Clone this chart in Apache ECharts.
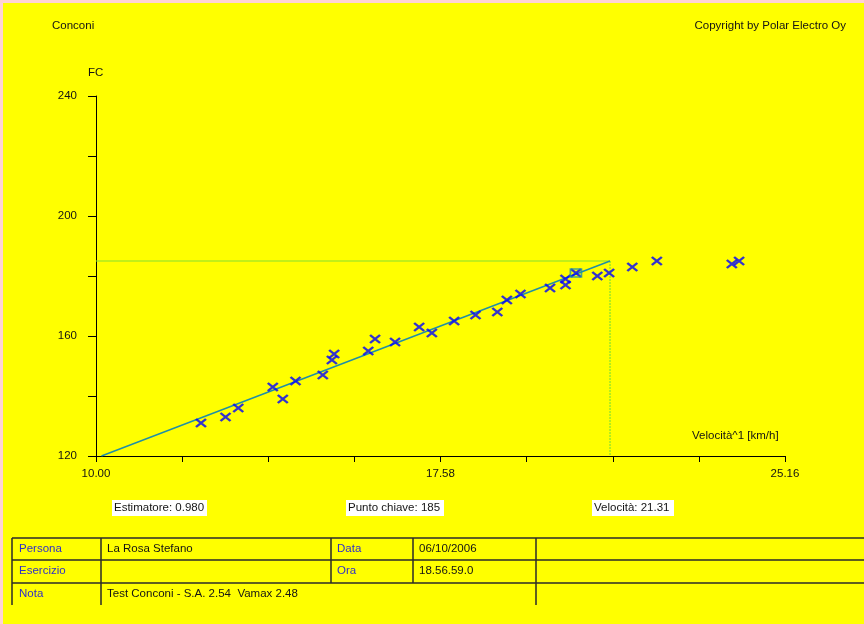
<!DOCTYPE html>
<html>
<head>
<meta charset="utf-8">
<script src="https://cdn.jsdelivr.net/npm/echarts@6/dist/echarts.min.js"></script>
<style>
html,body{margin:0;padding:0;background:#ffff00;}
#c{width:864px;height:624px;}
</style>
</head>
<body>
<div id="c"></div>
<script>
// ---- data ----
const velocity = [12.31,12.85,13.13,13.89,14.11,14.39,14.99,15.19,15.24,15.99,16.14,16.58,17.11,17.39,17.88,18.35,18.83,19.04,19.34,19.99,20.33,20.33,20.56,21.03,21.29,21.80,22.34,23.99,24.15];
const heartRate = [131,133,136,143,139,145,147,152,154,155,159,158,163,161,165,167,168,172,174,176,179,177,181,180,181,183,185,184,185];
const regressionVel = [10.12, 21.31];
const regressionHR = [120, 185];
const keyVel = [20.56];
const keyHR = [181];
const deflectionVel = 21.31;
const deflectionHR = 185;
const xTicks = [10.00, 11.895, 13.79, 15.685, 17.58, 19.475, 21.37, 23.265, 25.16];
const xLabels = [10.00, 17.58, 25.16];
const yLabels = [120, 160, 200, 240];
const yMin = 120, yMax = 240, yStep = 20;
const infoBoxes = ["Estimatore: 0.980", "Punto chiave: 185", "Velocità: 21.31"];
const tableRows = [
  ["Persona", "La Rosa Stefano", "Data", "06/10/2006"],
  ["Esercizio", "", "Ora", "18.56.59.0"],
  ["Nota", "Test Conconi - S.A. 2.54  Vamax 2.48", "", ""]
];

// ---- chart ----
const FONT = 'Liberation Sans, Arial, sans-serif';
const FS = 11.5;
const TXT = '#141414';
const BLUE = '#3030c8';
const chart = echarts.init(document.getElementById('c'));

const graphics = [];
graphics.push({type:'rect', shape:{x:0,y:0,width:864,height:3}, style:{fill:'#ffd3d3'}, silent:true});
graphics.push({type:'rect', shape:{x:0,y:0,width:3,height:624}, style:{fill:'#ffd3d3'}, silent:true});
function txt(x, y, s, opts) {
  graphics.push({type:'text', x:x, y:y, style:Object.assign({text:s, fill:TXT, font:FS + 'px ' + FONT, textVerticalAlign:'middle'}, opts||{})});
}
txt(52, 26, 'Conconi');
txt(846, 26, 'Copyright by Polar Electro Oy', {textAlign:'right'});
txt(88, 73, 'FC');
txt(692, 436, 'Velocità^1 [km/h]');

const boxX = [112, 346, 592];
const boxW = [95, 98, 82];
infoBoxes.forEach((s, i) => {
  graphics.push({type:'rect', shape:{x:boxX[i], y:500, width:boxW[i], height:16}, style:{fill:'#ffffff'}});
  txt(boxX[i] + 2, 508, s);
});

const lineStyle = {stroke:'#2a2a2a', lineWidth:1.5};
[538, 560, 583].forEach(y => graphics.push({type:'line', shape:{x1:12, y1:y, x2:864, y2:y}, style:lineStyle}));
[[12,605],[101,605],[331,583],[413,583],[536,605]].forEach(v => graphics.push({type:'line', shape:{x1:v[0], y1:538, x2:v[0], y2:v[1]}, style:lineStyle}));
const colX = [19, 107, 337, 419];
const rowY = [549, 571, 594];
tableRows.forEach((row, r) => {
  row.forEach((s, c) => {
    if (!s) return;
    txt(colX[c], rowY[r], s, {fill: (c % 2 === 0) ? BLUE : TXT});
  });
});

const scatterData = velocity.map((v, i) => [v, heartRate[i]]);

chart.setOption({
  backgroundColor: '#ffff00',
  animation: false,
  grid: {left:96, top:96, right:79, bottom:168},
  xAxis: {
    type:'value', min:10, max:25.16,
    axisLine:{show:true, lineStyle:{color:'#000', width:1}},
    axisTick:{show:true, length:6, customValues:xTicks, lineStyle:{color:'#000'}},
    axisLabel:{customValues:xLabels, formatter:v => v.toFixed(2), color:TXT, fontSize:FS, fontFamily:FONT, margin:12},
    splitLine:{show:false}
  },
  yAxis: {
    type:'value', min:yMin, max:yMax, interval:yStep,
    axisLine:{show:true, lineStyle:{color:'#000', width:1}},
    axisTick:{show:true, length:8, lineStyle:{color:'#000'}},
    axisLabel:{customValues:yLabels, color:TXT, fontSize:FS, fontFamily:FONT, margin:19},
    splitLine:{show:false}
  },
  series: [
    {type:'line', data:[[xTicks[0], deflectionHR],[deflectionVel, deflectionHR]], symbol:'none', lineStyle:{color:'#84e030', width:1.2}, z:1},
    {type:'line', data:[[deflectionVel, deflectionHR],[deflectionVel, yMin]], symbol:'none', lineStyle:{color:'#84e030', width:1.2, type:[2,1]}, z:1},
    {type:'line', data:regressionVel.map((v,i)=>[v, regressionHR[i]]), symbol:'none', lineStyle:{color:'#1f8fa6', width:1.4}, z:2},
    {type:'scatter', data:scatterData, symbol:'path://M0,0L10,10M10,0L0,10', symbolSize:[10,8],
     itemStyle:{color:'rgba(0,0,0,0)', borderColor:'#0000ff', borderWidth:2.2}, z:3},
    {type:'scatter', data:keyVel.map((v,i)=>[v, keyHR[i]]), symbol:'rect', symbolSize:[11,8],
     itemStyle:{color:'rgba(0,0,0,0)', borderColor:'#1f8fa6', borderWidth:1.5}, z:4}
  ],
  graphic: graphics
});
</script>
</body>
</html>
